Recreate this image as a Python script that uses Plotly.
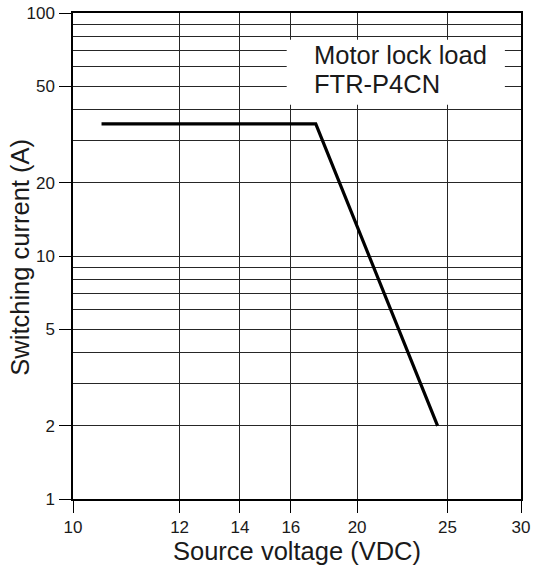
import numpy as np
import plotly.graph_objects as go

# ---- data ----
voltage = [10.5, 17.4, 24.4]          # Source voltage (VDC)
current = [35, 35, 2]                 # Switching current (A)

x_tick_values = [10, 12, 14, 16, 20, 25, 30]
x_tick_labels = ["10", "12", "14", "16", "20", "25", "30"]
y_tick_values = [1, 2, 5, 10, 20, 50, 100]
y_tick_labels = ["1", "2", "5", "10", "20", "50", "100"]
y_minor_values = [3, 4, 6, 7, 8, 9, 30, 40, 60, 70, 80, 90]

legend_lines = ["Motor lock load", "FTR-P4CN"]
x_title = "Source voltage (VDC)"
y_title = "Switching current (A)"

# ---- the original chart's non-uniform voltage scale ----
# fraction of the axis length at which each voltage tick sits
x_scale_stops = [0.0, 0.2380, 0.3725, 0.4863, 0.6342, 0.8358, 1.0]


def vscale(v):
    return np.interp(np.log10(np.asarray(v, dtype=float)),
                     np.log10(x_tick_values), x_scale_stops)


FONT = "Liberation Sans, Arial, Helvetica, sans-serif"
TXT = "#1a1a1a"
GRID = "#262626"

fig = go.Figure()
fig.add_trace(go.Scatter(
    x=vscale(voltage), y=current, mode="lines",
    line=dict(color="black", width=3.2), showlegend=False,
    hoverinfo="skip",
))

fig.update_layout(
    width=534, height=571,
    margin=dict(l=73, r=13, t=13, b=72, autoexpand=False),
    paper_bgcolor="white", plot_bgcolor="white",
    font=dict(family=FONT, color=TXT, size=17),
    showlegend=False,
)

fig.update_xaxes(
    type="linear", range=[0, 1], automargin=False,
    tickmode="array", tickvals=vscale(x_tick_values), ticktext=x_tick_labels,
    ticks="outside", ticklen=12, tickwidth=1, tickcolor="black",
    showgrid=True, gridcolor=GRID, gridwidth=1,
    showline=True, linecolor="black", linewidth=1.5, mirror=True,
    zeroline=False,
    tickfont=dict(size=17, family=FONT, color=TXT),
)

fig.update_yaxes(
    type="log", range=[0, 2], automargin=False,
    tickmode="array", tickvals=y_tick_values, ticktext=y_tick_labels,
    ticks="outside", ticklen=12, tickwidth=1, tickcolor="black",
    ticklabelstandoff=1,
    showgrid=True, gridcolor=GRID, gridwidth=1,
    minor=dict(tickmode="array", tickvals=y_minor_values, showgrid=True,
               gridcolor=GRID, gridwidth=1, ticks=""),
    showline=True, linecolor="black", linewidth=1.5, mirror=True,
    zeroline=False,
    tickfont=dict(size=17, family=FONT, color=TXT),
)

# axis titles
fig.add_annotation(xref="paper", yref="paper", x=0.5, y=-0.106,
                   xanchor="center", yanchor="middle", showarrow=False,
                   text=x_title, font=dict(size=25.5, family=FONT, color=TXT))
fig.add_annotation(xref="paper", yref="paper", x=-0.119, y=0.498,
                   xanchor="center", yanchor="middle", showarrow=False,
                   textangle=-90,
                   text=y_title, font=dict(size=25.5, family=FONT, color=TXT))

# white label box over the grid
fig.add_shape(type="rect", xref="paper", yref="paper",
              x0=0.477, x1=0.964, y0=0.811, y1=0.945,
              fillcolor="white", line=dict(width=0), layer="above")

for i, txt in enumerate(legend_lines):
    fig.add_annotation(
        xref="paper", yref="paper", x=0.533, y=0.914 - i * 0.061,
        xanchor="left", yanchor="middle", showarrow=False,
        text=txt, font=dict(size=25.5, family=FONT, color=TXT),
    )

fig.write_html(
    "out.html",
    config={"displayModeBar": False},
    post_script="document.body.style.margin='0';document.body.style.padding='0';",
)
